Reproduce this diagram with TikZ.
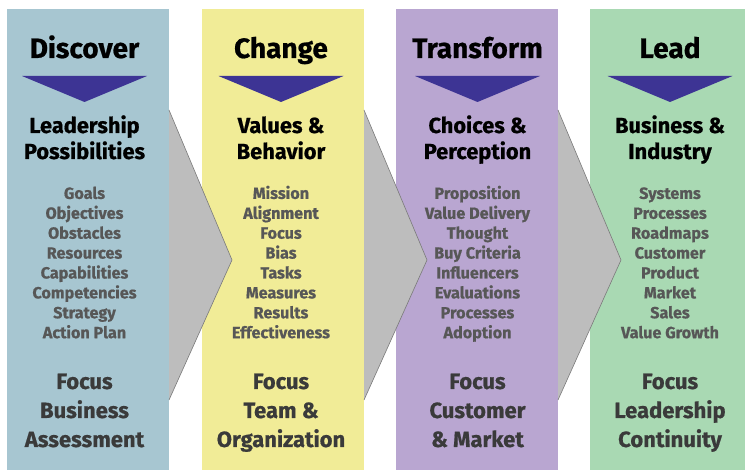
\documentclass[tikz,border=0pt]{standalone}
\usepackage{fontspec}
\setmainfont{Fira Sans}[BoldFeatures={FakeBold=0.7}]
\definecolor{cblue}{HTML}{A7C6D1}
\definecolor{cyellow}{HTML}{F1EC97}
\definecolor{cpurple}{HTML}{B9A6D1}
\definecolor{cgreen}{HTML}{A9D9B3}
\definecolor{arrfill}{HTML}{BDBDBD}
\definecolor{arrline}{HTML}{7A7A7A}
\definecolor{tricol}{HTML}{3D3494}
\definecolor{lstcol}{HTML}{575757}
\definecolor{foccol}{HTML}{3A3A3A}
\begin{document}
\begin{tikzpicture}[x=1pt,y=-1pt,
  colbox/.style={fill=#1,draw=none},
  arrfillst/.style={fill=arrfill,draw=none},
  arredge/.style={draw=arrline,line width=0.6pt,line join=miter},
  tri/.style={fill=tricol,draw=none},
  ttl/.style={anchor=base,inner sep=0pt,font=\fontsize{28}{30}\selectfont\bfseries,text=black},
  sub/.style={anchor=base,inner sep=0pt,font=\fontsize{21.8}{24}\selectfont\bfseries,text=black},
  lst/.style={anchor=base,inner sep=0pt,font=\fontsize{16.2}{18}\selectfont\bfseries,text=lstcol},
  foc/.style={anchor=base,inner sep=0pt,font=\fontsize{22}{24}\selectfont\bfseries,text=foccol}]
\useasboundingbox (0,0) rectangle (745,470);
\fill[white] (0,0) rectangle (745,470);
% columns
\fill[colbox=cblue] (7,9) rectangle (169,470);
\fill[colbox=cyellow] (202,9) rectangle (364,470);
\fill[colbox=cpurple] (396,9) rectangle (558,470);
\fill[colbox=cgreen] (590,9) rectangle (745,470);
% gray arrows
\foreach \a in {169,364,558}{
  \fill[arrfillst] (\a,110) -- (\a+63,260) -- (\a,400) -- cycle;
  \draw[arredge] (\a,110) -- (\a+63,260) -- (\a,400);
}
% triangles
\foreach \c in {84.5,281,477.5,670}{
  \fill[tri] (\c-62.5,76) -- (\c+62.5,76) -- (\c,102) -- cycle;
}
% titles
\node[ttl] (t1) at (84.5,58) {Discover};
\node[ttl] (t2) at (281,58) {Change};
\node[ttl] (t3) at (477.5,58) {Transform};
\node[ttl] (t4) at (670,58) {Lead};
% subtitles
\node[sub] (s1a) at (84.5,133) {Leadership};
\node[sub] (s1b) at (84.5,159) {Possibilities};
\node[sub] (s2a) at (281,133) {Values \&};
\node[sub] (s2b) at (281,159) {Behavior};
\node[sub] (s3a) at (477.5,133) {Choices \&};
\node[sub] (s3b) at (477.5,159) {Perception};
\node[sub] (s4a) at (670,133) {Business \&};
\node[sub] (s4b) at (670,159) {Industry};
% lists
\foreach \t [count=\k] in {Goals,Objectives,Obstacles,Resources,Capabilities,Competencies,Strategy,Action Plan}
  \node[lst] (la\k) at (84.5,179+19.9*\k) {\t};
\foreach \t [count=\k] in {Mission,Alignment,Focus,Bias,Tasks,Measures,Results,Effectiveness}
  \node[lst] (lb\k) at (281,179+19.9*\k) {\t};
\foreach \t [count=\k] in {Proposition,Value Delivery,Thought,Buy Criteria,Influencers,Evaluations,Processes,Adoption}
  \node[lst] (lc\k) at (477.5,179+19.9*\k) {\t};
\foreach \t [count=\k] in {Systems,Processes,Roadmaps,Customer,Product,Market,Sales,Value Growth}
  \node[lst] (ld\k) at (670,179+19.9*\k) {\t};
% focus
\node[foc] (f1a) at (84.5,389) {Focus};
\node[foc] (f1b) at (84.5,418) {Business};
\node[foc] (f1c) at (84.5,447) {Assessment};
\node[foc] (f2a) at (281,389) {Focus};
\node[foc] (f2b) at (281,418) {Team \&};
\node[foc] (f2c) at (281,447) {Organization};
\node[foc] (f3a) at (477.5,389) {Focus};
\node[foc] (f3b) at (477.5,418) {Customer};
\node[foc] (f3c) at (477.5,447) {\& Market};
\node[foc] (f4a) at (670,389) {Focus};
\node[foc] (f4b) at (670,418) {Leadership};
\node[foc] (f4c) at (670,447) {Continuity};
\end{tikzpicture}
\end{document}
